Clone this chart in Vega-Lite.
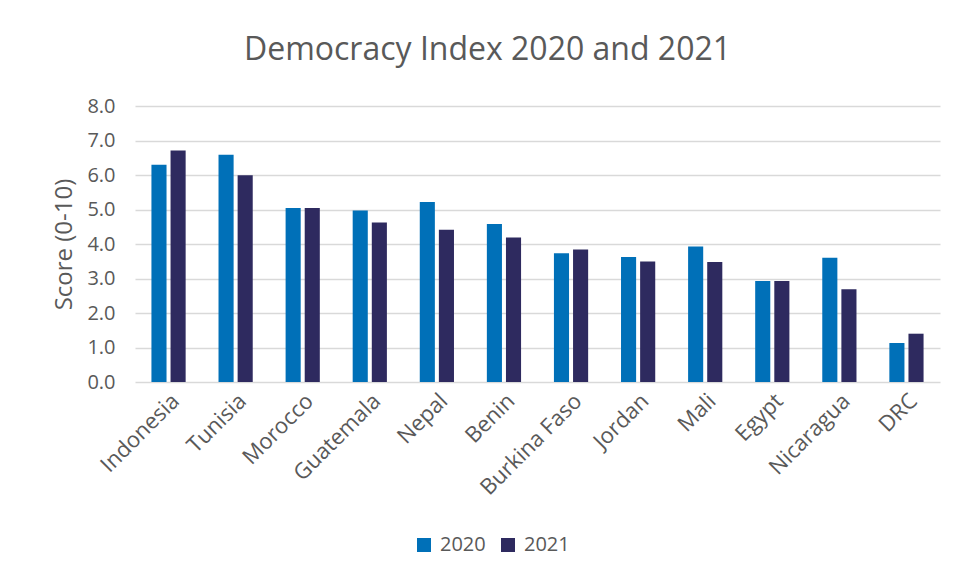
{
  "$schema": "https://vega.github.io/schema/vega-lite/v6.json",
  "width": 805,
  "height": 276,
  "autosize": "none",
  "padding": {"left": 135, "top": 106, "right": 17, "bottom": 199},
  "background": "white",
  "title": {
    "text": "Democracy Index 2020 and 2021",
    "fontSize": 32,
    "font": "Open Sans",
    "fontWeight": "normal",
    "color": "#595959",
    "anchor": "middle",
    "dx": -50,
    "offset": 29
  },
  "data": {
    "values": [
      {"country": "Indonesia", "year": "2020", "score": 6.30},
      {"country": "Indonesia", "year": "2021", "score": 6.71},
      {"country": "Tunisia", "year": "2020", "score": 6.59},
      {"country": "Tunisia", "year": "2021", "score": 5.99},
      {"country": "Morocco", "year": "2020", "score": 5.04},
      {"country": "Morocco", "year": "2021", "score": 5.04},
      {"country": "Guatemala", "year": "2020", "score": 4.97},
      {"country": "Guatemala", "year": "2021", "score": 4.62},
      {"country": "Nepal", "year": "2020", "score": 5.22},
      {"country": "Nepal", "year": "2021", "score": 4.41},
      {"country": "Benin", "year": "2020", "score": 4.58},
      {"country": "Benin", "year": "2021", "score": 4.19},
      {"country": "Burkina Faso", "year": "2020", "score": 3.73},
      {"country": "Burkina Faso", "year": "2021", "score": 3.84},
      {"country": "Jordan", "year": "2020", "score": 3.62},
      {"country": "Jordan", "year": "2021", "score": 3.49},
      {"country": "Mali", "year": "2020", "score": 3.93},
      {"country": "Mali", "year": "2021", "score": 3.48},
      {"country": "Egypt", "year": "2020", "score": 2.93},
      {"country": "Egypt", "year": "2021", "score": 2.93},
      {"country": "Nicaragua", "year": "2020", "score": 3.60},
      {"country": "Nicaragua", "year": "2021", "score": 2.69},
      {"country": "DRC", "year": "2020", "score": 1.13},
      {"country": "DRC", "year": "2021", "score": 1.40}
    ]
  },
  "mark": {"type": "bar"},
  "encoding": {
    "x": {
      "field": "country",
      "type": "nominal",
      "sort": null,
      "scale": {"paddingInner": 0.49, "paddingOuter": 0.245},
      "axis": {
        "title": null,
        "labelAngle": -45,
        "labelFontSize": 22,
        "labelFont": "Open Sans",
        "labelColor": "#595959",
        "domain": false,
        "ticks": false,
        "labelPadding": 8
      }
    },
    "xOffset": {
      "field": "year",
      "type": "nominal",
      "scale": {"paddingInner": 0.21, "paddingOuter": 0}
    },
    "y": {
      "field": "score",
      "type": "quantitative",
      "scale": {"domain": [0, 8], "nice": false},
      "axis": {
        "title": "Score (0-10)",
        "titleFontSize": 24,
        "titleFont": "Open Sans",
        "titleFontWeight": "normal",
        "titleColor": "#595959",
        "titlePadding": 10,
        "values": [0, 1, 2, 3, 4, 5, 6, 7, 8],
        "format": ".1f",
        "labelFontSize": 20,
        "labelFont": "Open Sans",
        "labelColor": "#595959",
        "labelPadding": 20,
        "domain": false,
        "ticks": false,
        "grid": true,
        "gridColor": "#d9d9d9",
        "gridWidth": 1.3
      }
    },
    "color": {
      "field": "year",
      "type": "nominal",
      "scale": {"domain": ["2020", "2021"], "range": ["#0070b8", "#2e2a5f"]},
      "legend": {
        "title": null,
        "orient": "none",
        "direction": "horizontal",
        "legendX": 279,
        "legendY": 429,
        "symbolType": "square",
        "symbolSize": 196,
        "symbolStrokeWidth": 0,
        "labelFontSize": 20,
        "labelFont": "Open Sans",
        "labelColor": "#595959",
        "columnPadding": 12,
        "labelOffset": 6
      }
    }
  },
  "config": {
    "view": {"stroke": null},
    "font": "Open Sans"
  }
}
